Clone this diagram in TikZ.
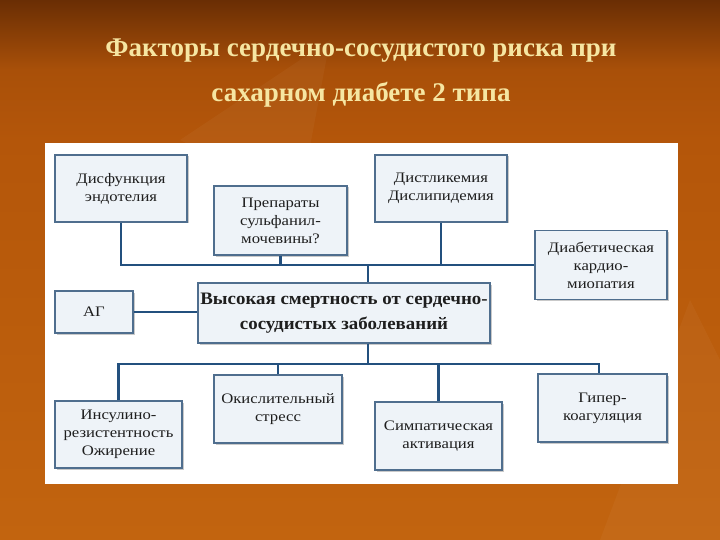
\documentclass[tikz,border=0pt]{standalone}
\usepackage{fontspec}
\setmainfont{Liberation Serif}
\newfontfamily\boxfont[FakeStretch=1.15]{Liberation Serif}
\newfontfamily\centfont[FakeStretch=1.08]{Liberation Serif}
\usetikzlibrary{shadows}
\definecolor{bgtop}{HTML}{6A2E04}
\definecolor{bgmid}{HTML}{B4560A}
\definecolor{bgbot}{HTML}{C2640F}
\definecolor{titlecol}{HTML}{F6E6A2}
\definecolor{boxfill}{HTML}{EEF3F8}
\definecolor{boxdraw}{HTML}{4F6E8E}
\definecolor{linecol}{HTML}{23507E}
\definecolor{txt}{HTML}{1E1E1E}
\tikzset{
  fbox/.style={draw=boxdraw, line width=1.3pt, fill=boxfill, align=center, text=txt,
    font=\boxfont\fontsize{14.5}{18}\selectfont, inner sep=2pt,
    drop shadow={shadow xshift=1.5pt, shadow yshift=-1.5pt, fill=black!35, opacity=0.6}},
  conn/.style={draw=linecol, line width=2.4pt},
  ttl/.style={text=titlecol, font=\fontsize{27}{30}\bfseries\selectfont}
}
\begin{document}
\begin{tikzpicture}[x=1pt,y=-1pt]
\useasboundingbox (0,0) rectangle (720,540);
\shade[top color=bgtop, bottom color=bgmid, middle color=bgmid!85!bgtop] (0,0) rectangle (720,140);
\shade[top color=bgmid, bottom color=bgbot] (0,140) rectangle (720,540);
\fill[white, opacity=0.035] (180,140) -- (330,40) -- (300,200) -- cycle;
\fill[white, opacity=0.035] (600,540) -- (690,300) -- (720,360) -- (720,540) -- cycle;
\fill[white] (45,143) rectangle (678,484);
\node[ttl] (t1) at (361,51) {Факторы сердечно-сосудистого риска при};
\node[ttl] (t2) at (361,95) {сахарном диабете 2 типа};

\node[fbox, minimum width=132, minimum height=67] (dis) at (121,188.5) {Дисфункция\\эндотелия};
\node[fbox, minimum width=133, minimum height=69] (prep) at (280.5,220.5) {Препараты\\сульфанил-\\мочевины?};
\node[fbox, minimum width=132, minimum height=67] (dys) at (441,188.5) {Дистликемия\\Дислипидемия};
\node[fbox, minimum width=132, minimum height=69] (card) at (601,265) {Диабетическая\\кардио-\\миопатия};
\node[fbox, minimum width=292, minimum height=60, font=\centfont\fontsize{17.5}{25}\bfseries\selectfont] (cent) at (344,313) {Высокая смертность от сердечно-\\сосудистых заболеваний};
\node[fbox, minimum width=78, minimum height=42] (ag) at (94,312) {АГ};
\node[fbox, minimum width=127, minimum height=67] (ins) at (118.5,434.5) {Инсулино-\\резистентность\\Ожирение};
\node[fbox, minimum width=128, minimum height=68] (oks) at (278,409) {Окислительный\\стресс};
\node[fbox, minimum width=127, minimum height=68] (sym) at (438.5,436) {Симпатическая\\активация};
\node[fbox, minimum width=129, minimum height=68] (hyp) at (602.5,408) {Гипер-\\коагуляция};

\coordinate (bus1) at (368,265);
\coordinate (bus2) at (368,364);
\draw[conn] (dis.south) |- (bus1) -- (card.west);
\draw[conn] (prep.south) -- (prep.south |- bus1);
\draw[conn] (dys.south) -- (dys.south |- bus1);
\draw[conn] (bus1) -- (bus1 |- cent.north);
\draw[conn] (ag.east) -- (ag.east -| cent.west);
\draw[conn] (bus1 |- cent.south) -- (bus2);
\draw[conn] (ins.north) |- (bus2) -| ([xshift=-3.5]hyp.north);
\draw[conn] (oks.north) -- (oks.north |- bus2);
\draw[conn] (sym.north) -- (sym.north |- bus2);
\end{tikzpicture}
\end{document}
